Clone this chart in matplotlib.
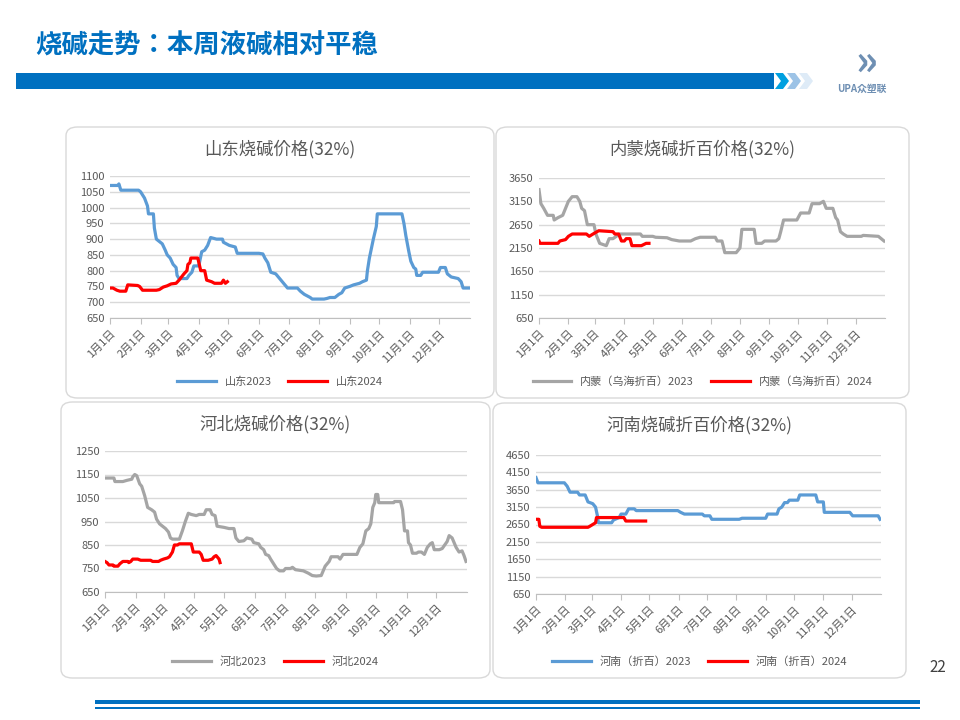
"""
烧碱走势 slide: four regional caustic soda price panels, 2023 vs 2024
"""

import numpy as np
import matplotlib
matplotlib.use("Agg")
from matplotlib import pyplot as plt
from matplotlib import font_manager
from matplotlib.patches import FancyBboxPatch, Rectangle, Polygon

# pick up whatever CJK fonts are installed
cjk = sorted(set(f.name for f in font_manager.fontManager.ttflist if "CJK" in f.name))
plt.rcParams["font.family"] = "sans-serif"
plt.rcParams["font.sans-serif"] = cjk + ["Noto Sans CJK SC", "DejaVu Sans"]

W, H = 960, 720

MONTH_DAYS = [0, 31, 59, 90, 120, 151, 181, 212, 243, 273, 304, 334]
MONTH_LABELS = ["%d月1日" % m for m in range(1, 13)]

# Shandong (32%)
SD23_DAY = [0, 8, 9, 11, 29, 31, 35, 38, 39, 44, 45, 47, 51, 53, 56, 58, 61, 64, 67, 68, 70, 78, 80, 83, 85, 90,
            93, 96, 99, 102, 108, 114, 115, 121, 127, 129, 151, 155, 157, 160, 163, 168, 172, 176, 180, 190, 193,
            197, 200, 203, 205, 217, 220, 223, 228, 232, 235, 238, 243, 247, 253, 256, 260, 261, 263, 265, 267,
            270, 271, 296, 298, 300, 303, 305, 308, 310, 311, 315, 317, 333, 335, 340, 342, 346, 353, 356, 358, 364]
SD23_VAL = [1070, 1070, 1075, 1055, 1055, 1050, 1030, 1005, 980, 980, 935, 900, 890, 885, 865, 850, 840, 820, 810,
            785, 775, 775, 785, 795, 815, 815, 860, 865, 880, 905, 900, 900, 890, 880, 875, 855, 855, 853, 840, 825,
            795, 790, 775, 760, 745, 745, 735, 725, 720, 715, 710, 710, 712, 715, 715, 725, 730, 745, 750, 755, 760,
            765, 770, 800, 840, 870, 900, 940, 980, 980, 950, 910, 860, 830, 810, 805, 785, 785, 795, 795, 810, 810,
            790, 780, 775, 765, 745, 745]
SD24_DAY = [0, 3, 7, 10, 16, 18, 28, 30, 33, 47, 50, 54, 58, 62, 67, 70, 75, 78, 79, 81, 82, 89, 92, 96, 98, 103,
            106, 113, 115, 117, 119]
SD24_VAL = [745, 745, 738, 735, 735, 755, 753, 750, 738, 738, 740, 748, 752, 758, 760, 770, 790, 800, 820, 825,
            840, 840, 800, 800, 770, 765, 760, 760, 770, 760, 765]

# Inner Mongolia (Wuhai, 100% basis)
NM23_DAY = [0, 2, 5, 9, 15, 16, 20, 25, 28, 31, 35, 40, 43, 45, 48, 51, 58, 60, 64, 71, 74, 78, 85, 107, 109, 120,
            123, 135, 140, 148, 160, 165, 170, 186, 188, 193, 196, 208, 210, 212, 214, 227, 229, 235, 238, 250,
            253, 255, 258, 272, 276, 285, 288, 296, 300, 303, 310, 313, 315, 318, 321, 325, 340, 342, 358, 361, 364]
NM23_VAL = [3400, 3100, 3000, 2850, 2850, 2750, 2800, 2850, 3000, 3150, 3250, 3250, 3150, 3000, 2950, 2650, 2650,
            2450, 2250, 2200, 2350, 2350, 2450, 2450, 2400, 2400, 2380, 2370, 2330, 2300, 2300, 2350, 2380, 2380,
            2300, 2300, 2050, 2050, 2100, 2150, 2550, 2550, 2250, 2250, 2300, 2300, 2350, 2500, 2750, 2750, 2900,
            2900, 3100, 3100, 3150, 3000, 3000, 2800, 2750, 2500, 2450, 2400, 2400, 2420, 2400, 2350, 2300]
NM24_DAY = [0, 1, 20, 22, 28, 31, 35, 50, 53, 57, 63, 78, 80, 84, 87, 90, 92, 96, 98, 108, 110, 113, 116]
NM24_VAL = [2300, 2250, 2250, 2300, 2330, 2400, 2450, 2450, 2400, 2450, 2520, 2500, 2450, 2450, 2300, 2300, 2350,
            2350, 2200, 2200, 2220, 2250, 2250]

# Hebei (32%)
HB23_DAY = [0, 9, 10, 18, 22, 27, 28, 30, 32, 35, 37, 40, 43, 47, 50, 52, 55, 58, 61, 64, 66, 68, 75, 78, 81, 84,
            87, 92, 95, 100, 102, 106, 108, 111, 113, 120, 125, 130, 132, 135, 140, 143, 148, 150, 155, 157, 160,
            162, 165, 167, 170, 173, 176, 180, 182, 187, 189, 192, 200, 205, 209, 213, 218, 222, 226, 228, 235,
            237, 240, 254, 257, 260, 263, 266, 268, 270, 272, 273, 275, 276, 291, 292, 298, 300, 302, 305, 306,
            308, 310, 314, 316, 319, 322, 325, 328, 330, 332, 337, 340, 345, 347, 350, 352, 354, 357, 360, 362, 364]
HB23_VAL = [1135, 1135, 1120, 1120, 1125, 1130, 1140, 1150, 1145, 1110, 1100, 1060, 1010, 1000, 990, 960, 940,
            930, 920, 905, 880, 875, 875, 910, 950, 985, 980, 975, 980, 980, 1000, 1000, 980, 975, 930, 925, 920,
            920, 880, 865, 868, 880, 875, 860, 855, 840, 830, 810, 805, 790, 770, 750, 740, 740, 750, 750, 755,
            745, 740, 730, 720, 718, 720, 760, 780, 800, 800, 790, 810, 810, 840, 855, 910, 920, 940, 1010, 1030,
            1065, 1065, 1030, 1030, 1035, 1035, 1000, 910, 910, 860, 850, 815, 815, 820, 820, 810, 840, 855, 860,
            830, 830, 835, 865, 890, 880, 860, 840, 820, 825, 805, 780]
HB24_DAY = [0, 2, 4, 8, 9, 13, 15, 18, 23, 24, 26, 28, 33, 36, 46, 48, 54, 56, 59, 63, 65, 68, 70, 73, 75, 87, 89,
            95, 97, 99, 104, 108, 110, 112, 114, 115, 116]
HB24_VAL = [780, 775, 765, 765, 760, 760, 770, 780, 780, 775, 780, 790, 790, 785, 785, 780, 780, 785, 790, 795,
            800, 820, 850, 850, 855, 855, 820, 820, 810, 785, 785, 790, 800, 805, 795, 790, 775]

# Henan (100% basis)
HN23_DAY = [0, 2, 30, 33, 36, 44, 46, 52, 55, 60, 63, 65, 66, 80, 82, 88, 90, 95, 98, 104, 106, 150, 153, 157,
            176, 178, 184, 186, 215, 218, 243, 245, 255, 257, 260, 263, 266, 268, 277, 279, 296, 298, 304, 305,
            332, 335, 362, 364]
HN23_VAL = [4000, 3850, 3850, 3750, 3580, 3580, 3500, 3500, 3300, 3250, 3150, 2900, 2700, 2700, 2780, 2850, 2950,
            2950, 3100, 3100, 3050, 3050, 3000, 2950, 2950, 2900, 2900, 2800, 2800, 2830, 2830, 2950, 2950, 3100,
            3150, 3280, 3280, 3350, 3350, 3500, 3500, 3300, 3300, 3000, 3000, 2900, 2900, 2800]
HN24_DAY = [0, 3, 4, 6, 55, 57, 60, 63, 64, 93, 95, 110, 116]
HN24_VAL = [2800, 2800, 2600, 2570, 2570, 2600, 2650, 2700, 2850, 2850, 2750, 2750, 2750]

BLUE = "#5B9BD5"
GREY = "#A5A5A5"
RED = "#FF0000"
TXT = "#595959"


def px_axes(fig, x0, x1, y0, y1):
    """Axes from pixel box (top y0, bottom y1)"""
    return fig.add_axes([x0 / W, 1 - y1 / H, (x1 - x0) / W, (y1 - y0) / H])


def panel(fig, box, plot, title, ticks, s23, s24, c23, labels):
    bx0, by0, bx1, by1 = box
    fig.patches.append(FancyBboxPatch((bx0 / W, 1 - by1 / H), (bx1 - bx0) / W, (by1 - by0) / H,
                                      boxstyle="round,pad=0,rounding_size=0.012",
                                      transform=fig.transFigure, fc="none", ec="#D9D9D9", lw=1))
    a_x = px_axes(fig, *plot)
    a_x.plot(s23[0], s23[1], color=c23, lw=2.3, label=labels[0])
    a_x.plot(s24[0], s24[1], color=RED, lw=2.3, label=labels[1])
    a_x.set_xlim(0, 365)
    a_x.set_ylim(ticks[0], ticks[-1])
    a_x.set_yticks(ticks)
    a_x.set_xticks(MONTH_DAYS)
    a_x.set_xticklabels(MONTH_LABELS, rotation=45, ha="right", rotation_mode="anchor")
    a_x.tick_params(axis="y", length=0, labelsize=8, labelcolor=TXT, pad=4)
    a_x.tick_params(axis="x", length=4, color="#BFBFBF", labelsize=8, labelcolor=TXT)
    a_x.grid(axis="y", color="#D9D9D9", lw=1)
    a_x.set_axisbelow(True)
    for side in ("top", "right", "left"):
        a_x.spines[side].set_visible(False)
    a_x.spines["bottom"].set_color("#BFBFBF")
    a_x.set_facecolor("none")
    fig.text((bx0 + bx1) / 2 / W, 1 - (by0 + 22) / H, title, ha="center", va="center",
             fontsize=12.5, color=TXT)
    fig.legend(*a_x.get_legend_handles_labels(), loc="center",
               bbox_to_anchor=((bx0 + bx1) / 2 / W, 1 - (by1 - 16) / H), ncol=2, frameon=False,
               fontsize=8, labelcolor=TXT, handlelength=3.5, columnspacing=1.5)


def main():
    fig = plt.figure(figsize=(9.6, 7.2), dpi=100)

    # header
    fig.text(35 / W, 1 - 46 / H, "烧碱走势：本周液碱相对平稳", fontsize=19, fontweight="bold",
             color="#0070C0", va="center")
    fig.patches.append(Rectangle((16 / W, 1 - 89 / H), 758 / W, 16 / H, transform=fig.transFigure,
                                 fc="#0070C0", ec="none"))
    for i, col in enumerate(["#00A0E0", "#9DC3E6", "#DEEBF7"]):
        x0 = 775 + i * 12
        fig.patches.append(Polygon([((x0) / W, 1 - 73 / H), ((x0 + 8) / W, 1 - 73 / H),
                                    ((x0 + 14) / W, 1 - 81 / H), ((x0 + 8) / W, 1 - 89 / H),
                                    ((x0) / W, 1 - 89 / H), ((x0 + 6) / W, 1 - 81 / H)],
                                   closed=True, transform=fig.transFigure, fc=col, ec="none"))
    fig.text(866 / W, 1 - 63 / H, "»", fontsize=30, color="#6E8FB3", ha="center", va="center",
             fontweight="bold")
    fig.text(862 / W, 1 - 89 / H, "UPA众塑联", fontsize=7, color="#6E8FB3", ha="center", va="center",
             fontweight="bold")

    panel(fig, (66, 127, 494, 398), (110, 470, 176, 318), "山东烧碱价格(32%)",
          list(range(650, 1101, 50)), (SD23_DAY, SD23_VAL), (SD24_DAY, SD24_VAL), BLUE,
          ("山东2023", "山东2024"))
    panel(fig, (496, 127, 909, 398), (539, 885, 178, 318), "内蒙烧碱折百价格(32%)",
          list(range(650, 3651, 500)), (NM23_DAY, NM23_VAL), (NM24_DAY, NM24_VAL), GREY,
          ("内蒙（乌海折百）2023", "内蒙（乌海折百）2024"))
    panel(fig, (61, 402, 490, 678), (105, 467, 451, 592), "河北烧碱价格(32%)",
          list(range(650, 1251, 100)), (HB23_DAY, HB23_VAL), (HB24_DAY, HB24_VAL), GREY,
          ("河北2023", "河北2024"))
    panel(fig, (493, 403, 906, 678), (536, 881, 455, 594), "河南烧碱折百价格(32%)",
          list(range(650, 4651, 500)), (HN23_DAY, HN23_VAL), (HN24_DAY, HN24_VAL), BLUE,
          ("河南（折百）2023", "河南（折百）2024"))

    # footer
    fig.text(938 / W, 1 - 668 / H, "22", fontsize=11, color="#404040", ha="center", va="center")
    fig.patches.append(Rectangle((95 / W, 1 - 704 / H), 825 / W, 4 / H, transform=fig.transFigure,
                                 fc="#0070C0", ec="none"))
    fig.patches.append(Rectangle((95 / W, 1 - 709 / H), 825 / W, 2 / H, transform=fig.transFigure,
                                 fc="#0070C0", ec="none"))

    plt.savefig("out.png", dpi=100)


if __name__ == "__main__":
    main()
